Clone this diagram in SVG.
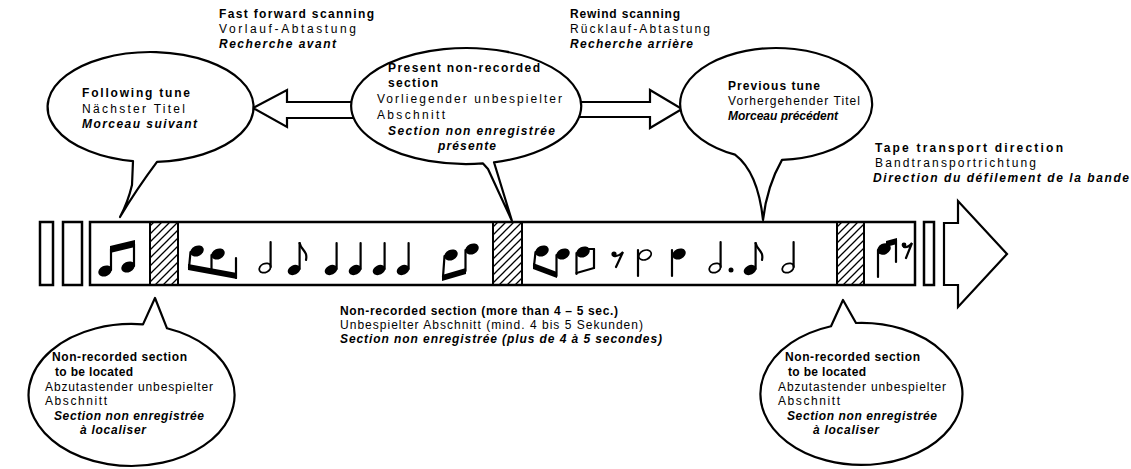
<svg xmlns="http://www.w3.org/2000/svg" width="1131" height="469" viewBox="0 0 1131 469">
<style>
text{font-family:"Liberation Sans",Arial,sans-serif;font-size:12px;fill:#000}
.en{font-weight:bold}
.fr{font-weight:bold;font-style:italic}
.bal{fill:#fff;stroke:#000;stroke-width:2.2;stroke-linejoin:round}
.arr{fill:#fff;stroke:#000;stroke-width:2.2;stroke-linejoin:miter}
.box{fill:#fff;stroke:#000;stroke-width:2.5}
.hat{fill:url(#hatch);stroke:#000;stroke-width:2}
.st{stroke:#000;stroke-width:2.2;fill:none;stroke-linecap:round}
.hd{fill:#000;stroke:none}
.ho{fill:none;stroke:#000;stroke-width:1.7}
</style>
<defs>
<pattern id="hatch" patternUnits="userSpaceOnUse" width="8" height="8">
<path d="M-2,2 L2,-2 M0,8 L8,0 M6,10 L10,6" stroke="#000" stroke-width="1.3"/>
</pattern>
<g id="q"><ellipse class="hd" cx="0" cy="0" rx="6.6" ry="4.8" transform="rotate(-25)"/><line class="st" x1="5.6" y1="-1" x2="5.6" y2="-27"/></g>
<g id="h"><ellipse class="ho" cx="0" cy="0" rx="6" ry="4.3" transform="rotate(-25)"/><line class="st" x1="5.6" y1="-1" x2="5.6" y2="-26"/></g>
<g id="e"><use href="#q"/><path class="st" d="M5.6,-27 C7,-20 14,-19 12,-10"/></g>
</defs>

<g id="connectors">
<polyline class="arr" points="358,102 287,102 287,90 253,108 287,127 287,118 358,118"/>
<polyline class="arr" points="576,102 650,102 650,90 682,109 650,128 650,117 576,117"/>
<polygon class="arr" points="944,223 958,223 958,201 1007,254 958,307 958,285 944,285"/>
</g>

<g id="tape">
<rect class="box" x="40" y="222" width="13" height="63"/>
<rect class="box" x="63" y="222" width="19" height="63"/>
<rect class="box" x="90" y="222" width="825" height="63"/>
<rect class="box" x="924" y="222" width="10" height="63"/>
<rect class="hat" x="150" y="222" width="28" height="63"/>
<rect class="hat" x="493" y="222" width="29" height="63"/>
<rect class="hat" x="837" y="222" width="27" height="63"/>
</g>

<g id="notes">
<ellipse class="hd" cx="105" cy="271" rx="7" ry="5.2" transform="rotate(-25 105 271)"/>
<ellipse class="hd" cx="128" cy="267" rx="7" ry="5.2" transform="rotate(-25 128 267)"/>
<line class="st" x1="111" y1="270" x2="111" y2="249"/>
<line class="st" x1="134" y1="266" x2="134" y2="244"/>
<polygon class="hd" points="110,246 135,240 135,247 110,253"/>
<ellipse class="hd" cx="197" cy="251" rx="7" ry="5.2" transform="rotate(-25 197 251)"/>
<ellipse class="hd" cx="218" cy="254" rx="7" ry="5.2" transform="rotate(-25 218 254)"/>
<line class="st" x1="190.5" y1="252" x2="189" y2="268"/>
<line class="st" x1="211.5" y1="255" x2="211.5" y2="272"/>
<line class="st" x1="236" y1="258" x2="236" y2="278"/>
<polygon class="hd" points="188,264 237,273 237,279 188,270"/>
<use href="#h" x="265" y="268"/>
<use href="#e" x="294" y="270"/>
<use href="#q" x="331" y="270"/>
<use href="#q" x="355" y="270"/>
<use href="#q" x="379" y="270"/>
<use href="#q" x="403" y="270"/>
<ellipse class="hd" cx="451" cy="255" rx="7" ry="5.2" transform="rotate(-25 451 255)"/>
<ellipse class="hd" cx="472" cy="249" rx="7" ry="5.2" transform="rotate(-25 472 249)"/>
<line class="st" x1="444.5" y1="256" x2="443" y2="277"/>
<line class="st" x1="465.5" y1="250" x2="465.5" y2="271"/>
<polygon class="hd" points="442,275 466,268 466,274 442,281"/>
<ellipse class="hd" cx="542" cy="251" rx="7" ry="5.2" transform="rotate(-25 542 251)"/>
<ellipse class="hd" cx="563" cy="254" rx="7" ry="5.2" transform="rotate(-25 563 254)"/>
<line class="st" x1="535.5" y1="252" x2="534" y2="266"/>
<line class="st" x1="556.5" y1="255" x2="556.5" y2="276"/>
<polygon class="hd" points="533,263 557,272 557,278 533,269"/>
<ellipse class="hd" cx="583" cy="252" rx="7" ry="5.2" transform="rotate(-25 583 252)"/>
<line class="st" x1="576.5" y1="253" x2="576.5" y2="274"/>
<line class="st" x1="576.5" y1="273" x2="594" y2="268"/>
<line class="st" x1="594" y1="268" x2="594" y2="249"/>
<line class="st" x1="594" y1="249" x2="588" y2="249"/>
<circle class="hd" cx="614" cy="254" r="2.6"/>
<path class="st" d="M614,256 Q618,257 623,252 L616,267"/>
<line class="st" x1="638" y1="250" x2="638" y2="276"/>
<ellipse class="ho" cx="645" cy="255" rx="6.5" ry="4.6" transform="rotate(-25 645 255)"/>
<line class="st" x1="672" y1="250" x2="672" y2="276"/>
<ellipse class="hd" cx="679" cy="254" rx="7" ry="5.2" transform="rotate(-25 679 254)"/>
<use href="#h" x="715" y="268"/>
<circle class="hd" cx="731" cy="270" r="2.5"/>
<use href="#e" x="750" y="270"/>
<use href="#h" x="788" y="268"/>
<ellipse class="hd" cx="884" cy="249" rx="7" ry="5.4" transform="rotate(-25 884 249)"/>
<line class="st" x1="878" y1="250" x2="878" y2="277"/>
<polygon class="hd" points="886,241 897,238 897,244 886,247"/>
<line class="st" x1="896" y1="240" x2="896" y2="262"/>
<circle class="hd" cx="904" cy="245" r="2.4"/>
<path class="st" d="M904,247 Q908,248 912,243 L906,258"/>
</g>

<g id="following-tune">
<path class="bal" d="M133,161.2 L132,185 Q128,202 120,217 Q136,190 157,161.9 A103,55 0 1 0 133,161.2 Z"/>
<text class="en" x="82" y="97" textLength="108" lengthAdjust="spacing">Following tune</text>
<text x="82" y="113" textLength="103" lengthAdjust="spacing">Nächster Titel</text>
<text class="fr" x="82" y="128" textLength="115" lengthAdjust="spacing">Morceau suivant</text>
</g>

<g id="present-section">
<path class="bal" d="M483,163.4 L488,169 L512,221 L494,162.3 A115,58 0 1 0 483,163.4 Z"/>
<text class="en" x="388" y="72" textLength="152" lengthAdjust="spacing">Present non-recorded</text>
<text class="en" x="388" y="87" textLength="50" lengthAdjust="spacing">section</text>
<text x="377" y="103" textLength="185" lengthAdjust="spacing">Vorliegender unbespielter</text>
<text x="377" y="119" textLength="68" lengthAdjust="spacing">Abschnitt</text>
<text class="fr" x="388" y="135" textLength="167" lengthAdjust="spacing">Section non enregistrée</text>
<text class="fr" x="438" y="150" textLength="58" lengthAdjust="spacing">présente</text>
</g>

<g id="previous-tune">
<path class="bal" d="M735,154.6 Q758,172 763,220 Q767,186 782,159.9 A96,56 0 1 0 735,154.6 Z"/>
<text class="en" x="728" y="90" textLength="92" lengthAdjust="spacing">Previous tune</text>
<text x="728" y="105" textLength="132" lengthAdjust="spacing">Vorhergehender Titel</text>
<text class="fr" x="728" y="120" textLength="110" lengthAdjust="spacing">Morceau précédent</text>
</g>

<g id="locate-left">
<path class="bal" d="M143,324.4 L155,298 L167,328.3 A103,71 0 1 1 143,324.4 Z"/>
<text class="en" x="52" y="361" textLength="135" lengthAdjust="spacing">Non-recorded section</text>
<text class="en" x="55" y="376" textLength="78" lengthAdjust="spacing">to be located</text>
<text x="45" y="391" textLength="168" lengthAdjust="spacing">Abzutastender unbespielter</text>
<text x="45" y="405" textLength="62" lengthAdjust="spacing">Abschnitt</text>
<text class="fr" x="54" y="420" textLength="150" lengthAdjust="spacing">Section non enregistrée</text>
<text class="fr" x="80" y="434" textLength="66" lengthAdjust="spacing">à localiser</text>
</g>

<g id="locate-right">
<path class="bal" d="M831,326.2 L843,300 L856,323 A101,71 0 1 1 831,326.2 Z"/>
<text class="en" x="785" y="361" textLength="135" lengthAdjust="spacing">Non-recorded section</text>
<text class="en" x="788" y="376" textLength="78" lengthAdjust="spacing">to be located</text>
<text x="778" y="391" textLength="168" lengthAdjust="spacing">Abzutastender unbespielter</text>
<text x="778" y="405" textLength="62" lengthAdjust="spacing">Abschnitt</text>
<text class="fr" x="787" y="420" textLength="150" lengthAdjust="spacing">Section non enregistrée</text>
<text class="fr" x="813" y="434" textLength="66" lengthAdjust="spacing">à localiser</text>
</g>

<g id="labels">
<text class="en" x="219" y="18" textLength="155" lengthAdjust="spacing">Fast forward scanning</text>
<text x="219" y="33" textLength="137" lengthAdjust="spacing">Vorlauf-Abtastung</text>
<text class="fr" x="219" y="48" textLength="117" lengthAdjust="spacing">Recherche avant</text>
<text class="en" x="570" y="18" textLength="110" lengthAdjust="spacing">Rewind scanning</text>
<text x="570" y="33" textLength="140" lengthAdjust="spacing">Rücklauf-Abtastung</text>
<text class="fr" x="570" y="48" textLength="123" lengthAdjust="spacing">Recherche arrière</text>
<text class="en" x="875" y="152" textLength="188" lengthAdjust="spacing">Tape transport direction</text>
<text x="875" y="167" textLength="161" lengthAdjust="spacing">Bandtransportrichtung</text>
<text class="fr" x="873" y="182" textLength="256" lengthAdjust="spacing">Direction du défilement de la bande</text>
<text class="en" x="340" y="315" textLength="278" lengthAdjust="spacing">Non-recorded section (more than 4 – 5 sec.)</text>
<text x="340" y="329" textLength="303" lengthAdjust="spacing">Unbespielter Abschnitt (mind. 4 bis 5 Sekunden)</text>
<text class="fr" x="340" y="343" textLength="322" lengthAdjust="spacing">Section non enregistrée (plus de 4 à 5 secondes)</text>
</g>
</svg>
